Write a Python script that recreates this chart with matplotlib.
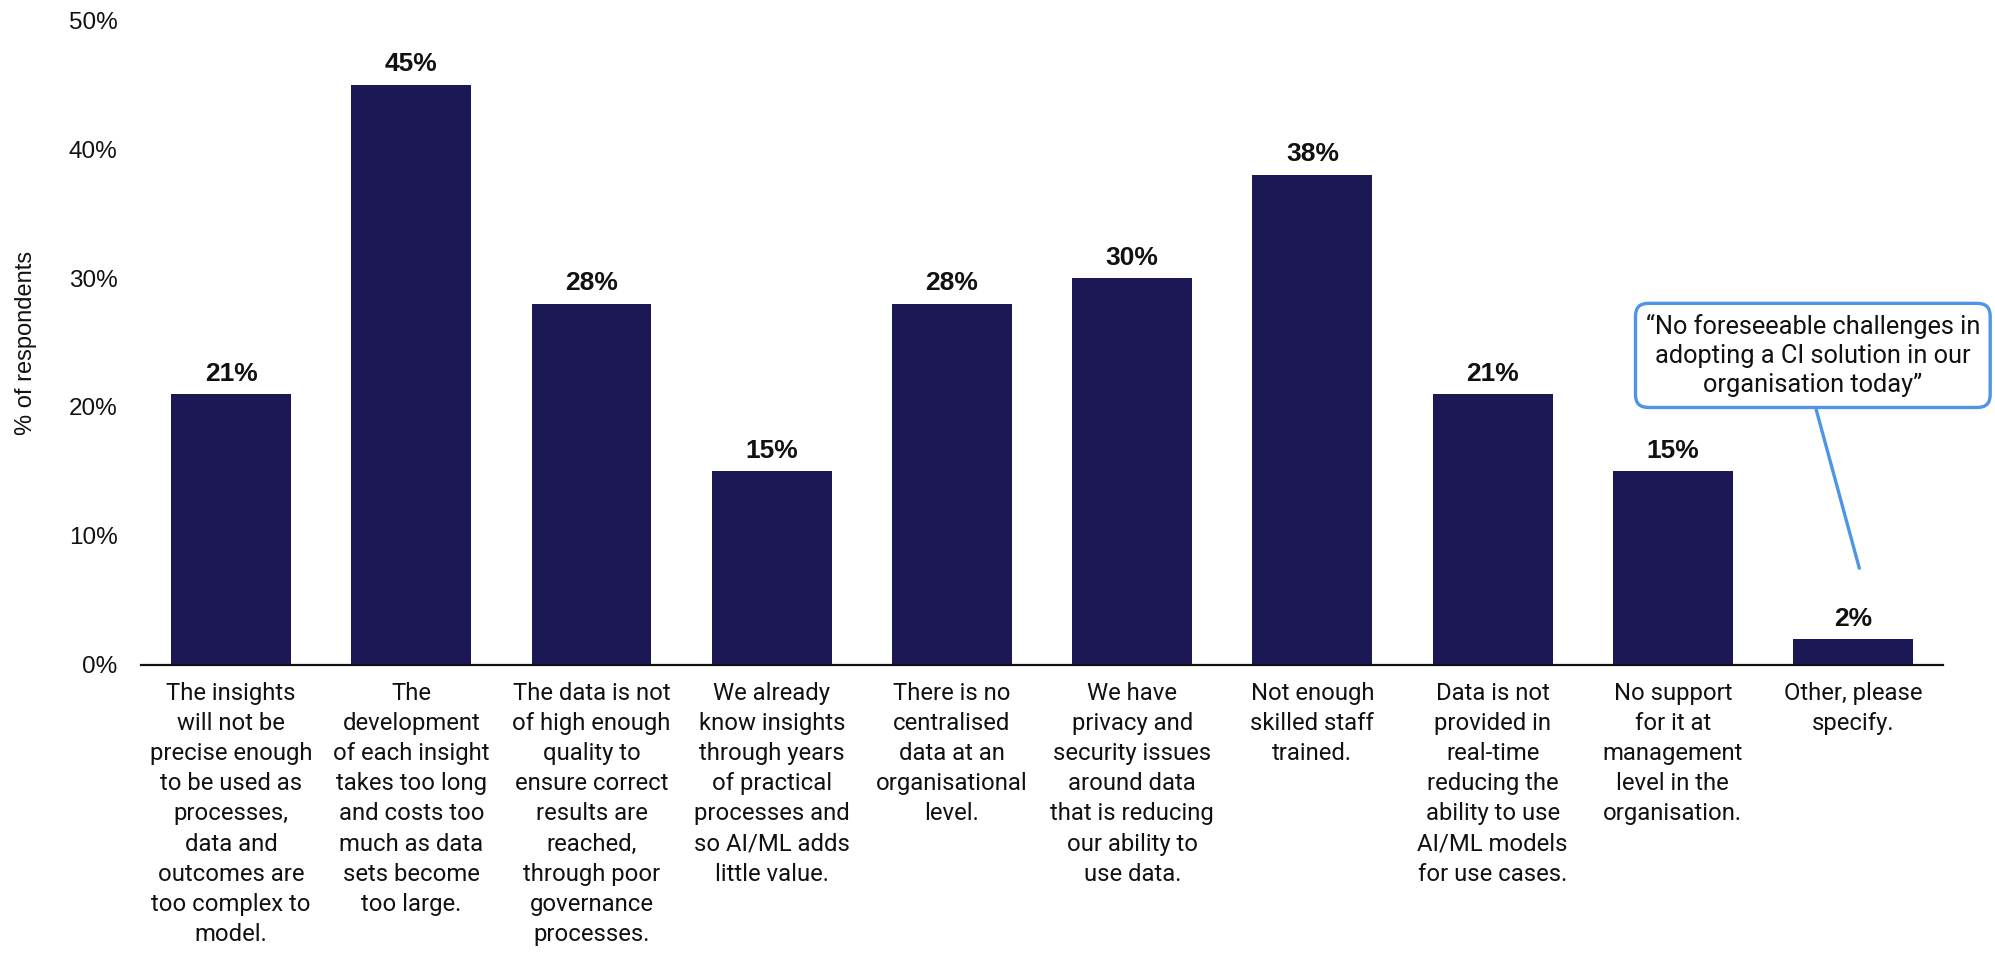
import matplotlib
matplotlib.use("Agg")
import matplotlib.pyplot as plt
from matplotlib.ticker import FuncFormatter

# Survey results: barriers to adopting a CI solution
categories = [
    "The insights\nwill not be\nprecise enough\nto be used as\nprocesses,\ndata and\noutcomes are\ntoo complex to\nmodel.",
    "The\ndevelopment\nof each insight\ntakes too long\nand costs too\nmuch as data\nsets become\ntoo large.",
    "The data is not\nof high enough\nquality to\nensure correct\nresults are\nreached,\nthrough poor\ngovernance\nprocesses.",
    "We already\nknow insights\nthrough years\nof practical\nprocesses and\nso AI/ML adds\nlittle value.",
    "There is no\ncentralised\ndata at an\norganisational\nlevel.",
    "We have\nprivacy and\nsecurity issues\naround data\nthat is reducing\nour ability to\nuse data.",
    "Not enough\nskilled staff\ntrained.",
    "Data is not\nprovided in\nreal-time\nreducing the\nability to use\nAI/ML models\nfor use cases.",
    "No support\nfor it at\nmanagement\nlevel in the\norganisation.",
    "Other, please\nspecify.",
]
percent_respondents = [21, 45, 28, 15, 28, 30, 38, 21, 15, 2]
y_ticks = [0, 10, 20, 30, 40, 50]
callout_text = "\u201cNo foreseeable challenges in\nadopting a CI solution in our\norganisation today\u201d"

BAR_COLOR = "#1B1855"
CALLOUT_COLOR = "#4E95E8"
LABEL_FONT = ["Roboto", "DejaVu Sans"]
AXIS_FONT = ["Liberation Sans", "DejaVu Sans"]

fig = plt.figure(figsize=(19.95, 9.59), dpi=100)
ax = fig.add_axes([0.0707, 0.3066, 0.9033, 0.6725])

x = list(range(len(categories)))
bars = ax.bar(x, percent_respondents, width=0.665, color=BAR_COLOR, zorder=2)
ax.bar_label(bars, labels=[f"{v}%" for v in percent_respondents], padding=6,
             fontsize=19, fontweight="bold", family=AXIS_FONT, color="#111111")

ax.set_xlim(-0.5, 9.5)
ax.set_ylim(0, 50)
ax.set_yticks(y_ticks)
ax.yaxis.set_major_formatter(FuncFormatter(lambda v, _: f"{v:.0f}%"))

for side in ("top", "right", "left"):
    ax.spines[side].set_visible(False)
ax.spines["bottom"].set_linewidth(1.6)
ax.spines["bottom"].set_color("#111111")

ax.tick_params(axis="y", length=0, pad=17, labelsize=17.5, labelcolor="#111111")
ax.tick_params(axis="x", length=0, pad=12)
for lbl in ax.get_yticklabels():
    lbl.set_family(AXIS_FONT)

ax.set_xticks(x)
ax.set_xticklabels(categories, fontsize=17.2, family=LABEL_FONT,
                   linespacing=1.40, color="#111111", va="top", ha="center")

ax.set_ylabel("% of respondents", fontsize=17, family=AXIS_FONT, color="#111111")
ax.yaxis.set_label_coords(-0.058, 0.5)

ax.annotate(callout_text, xy=(9.035, 7.5), xytext=(8.777, 24.0),
            ha="center", va="center", fontsize=18.3, family=LABEL_FONT,
            color="#111111", linespacing=1.28, annotation_clip=False,
            bbox=dict(boxstyle="round,pad=0.4,rounding_size=0.5",
                      fc="white", ec=CALLOUT_COLOR, lw=2.4),
            arrowprops=dict(arrowstyle="-", color=CALLOUT_COLOR, lw=2.4,
                            shrinkA=0, shrinkB=0, relpos=(0.5, 0.0)))

fig.savefig("out.png", dpi=100)
